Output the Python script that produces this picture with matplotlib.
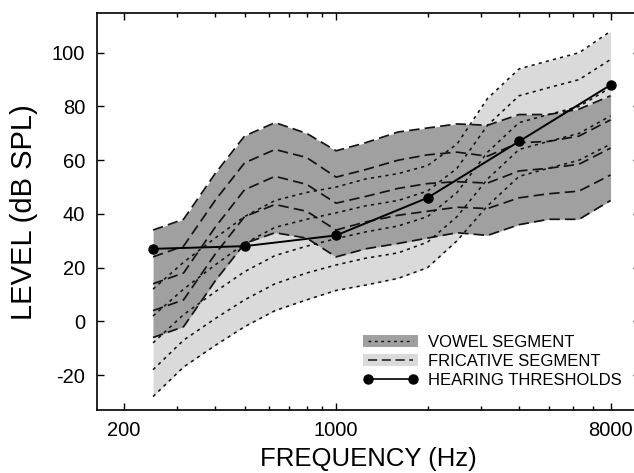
import matplotlib
matplotlib.use('Agg')
import matplotlib.pyplot as plt
from matplotlib.patches import Patch
from matplotlib.lines import Line2D
from matplotlib.legend_handler import HandlerTuple
from matplotlib.ticker import NullFormatter

plt.rcParams['font.family'] = ['Liberation Sans', 'DejaVu Sans']
plt.rcParams['axes.unicode_minus'] = False

# 1/3-octave band centres used for the segment spectra
freqs = [250, 315, 400, 500, 630, 800, 1000, 1250, 1600, 2000, 2500, 3150, 4000, 5000, 6300, 8000]

# vowel segment (dark band, long dashes), top to bottom
vowel_hi2 = [34, 38, 55, 69, 74, 70, 63.5, 66.5, 70.5, 72, 73.5, 73, 77, 77, 79, 84]
vowel_hi1 = [24, 28, 45, 59, 64, 61, 53.7, 56.5, 60, 62, 63, 61.5, 66.5, 67, 69, 75]
vowel_mid = [14, 18, 35, 49, 54, 51, 44, 46.5, 49.5, 51.3, 52, 51.5, 56, 57, 58.5, 64.5]
vowel_lo1 = [4, 8, 25, 39, 43.5, 41, 34, 37, 39.5, 41, 42.5, 42, 46, 47.5, 48.5, 54.5]
vowel_lo2 = [-6, -2, 15, 29, 33, 31, 24, 27, 29, 31, 33, 32, 36, 38, 38, 45]

# fricative segment (light band, short dots), top to bottom
fric_hi2 = [12, 22, 31, 39, 45, 48, 50, 53, 55, 58, 66, 83, 94, 97, 100, 108]
fric_hi1 = [2, 12, 21, 29, 35, 38, 40.4, 43, 45, 48.5, 57, 73, 84, 87, 90, 97.5]
fric_mid = [-8, 2.5, 11, 18.5, 24.5, 28, 30.8, 33.3, 35.5, 39, 48, 63, 74, 77, 80, 87]
fric_lo1 = [-18, -7, 1, 8, 14, 18, 21, 23.5, 25.5, 29.5, 39, 53, 64, 67, 70, 76.5]
fric_lo2 = [-28, -17, -9, -2, 4, 8, 11.5, 13.5, 16, 20, 30, 43, 54, 57, 60, 66]

# hearing thresholds
thr_freqs = [250, 500, 1000, 2000, 4000, 8000]
thr_levels = [27, 28, 32, 46, 67, 88]

dark = '#a0a0a0'
light = '#dadada'
ink = '#141414'
long_dash = (6, 3)
short_dash = (2, 2.6)

fig = plt.figure(figsize=(6.34, 4.73), dpi=100)
ax = fig.add_axes([0.153, 0.1332, 0.8565, 0.8387])
ax.set_xscale('log')

ax.fill_between(freqs, fric_lo2, fric_hi2, color=light, lw=0)
ax.fill_between(freqs, vowel_lo2, vowel_hi2, color=dark, lw=0)

for vals in [fric_hi2, fric_hi1, fric_mid, fric_lo1, fric_lo2]:
    ax.plot(freqs, vals, color=ink, lw=1.15, dashes=short_dash)
for vals in [vowel_hi2, vowel_hi1, vowel_mid, vowel_lo1, vowel_lo2]:
    ax.plot(freqs, vals, color=ink, lw=1.25, dashes=long_dash)

ax.plot(thr_freqs, thr_levels, color='black', lw=1.4, marker='o', ms=6.5)

ax.set_xlim(163.5, 10000)
ax.set_ylim(-33, 114.7)

ax.set_xticks([200, 1000, 8000], labels=['200', '1000', '8000'])
ax.set_xticks([300, 400, 500, 600, 700, 800, 900,
               2000, 3000, 4000, 5000, 6000, 7000], minor=True)
ax.xaxis.set_minor_formatter(NullFormatter())
ax.set_yticks([-20, 0, 20, 40, 60, 80, 100])

ax.tick_params(which='both', direction='in', top=True, right=True, width=1.0,
               labelsize=14.5)
ax.tick_params(which='major', length=5)
ax.tick_params(which='minor', length=3)
ax.tick_params(axis='y', pad=8.5)
ax.tick_params(axis='x', pad=8)
for sp in ax.spines.values():
    sp.set_linewidth(1.2)

ax.set_xlabel('FREQUENCY (Hz)', fontsize=18.5, labelpad=5)
ax.set_ylabel('LEVEL (dB SPL)', fontsize=21, labelpad=10)

h_vowel = (Patch(facecolor=dark, edgecolor='none'),
           Line2D([], [], color=ink, lw=1.0, dashes=(2, 2.6)))
h_fric = (Patch(facecolor=light, edgecolor='none'),
          Line2D([], [], color=ink, lw=1.1, dashes=(6, 3)))
h_thr = Line2D([], [], color='black', lw=1.2, marker='o', ms=6.5)
ax.legend([h_vowel, h_fric, h_thr],
          ['VOWEL SEGMENT', 'FRICATIVE SEGMENT', 'HEARING THRESHOLDS'],
          handler_map={tuple: HandlerTuple(ndivide=1, pad=0)},
          loc='upper left', bbox_to_anchor=(0.49, 0.19), frameon=False,
          borderpad=0, borderaxespad=0, fontsize=12, handlelength=3.3,
          handletextpad=0.6, labelspacing=0.26, numpoints=2)

fig.savefig('out.png', dpi=100)
